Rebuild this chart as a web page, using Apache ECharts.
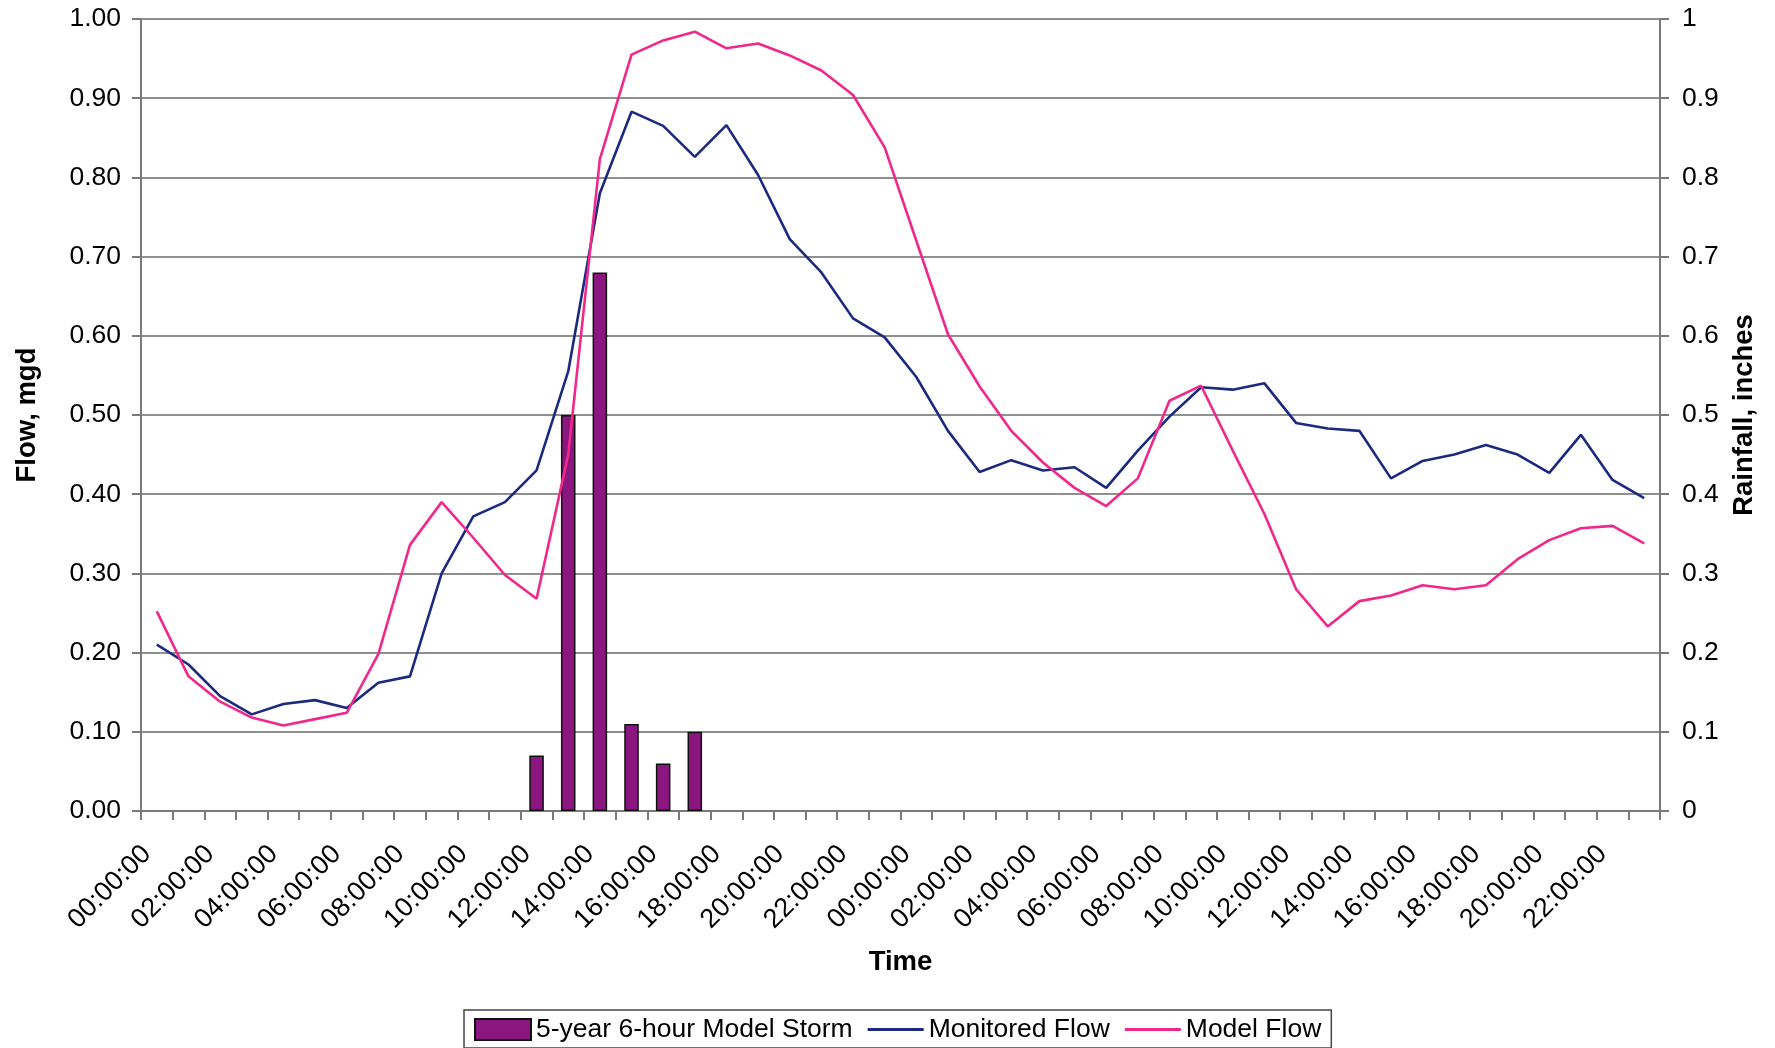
<!DOCTYPE html>
<html>
<head>
<meta charset="utf-8">
<script src="https://cdn.jsdelivr.net/npm/echarts@6/dist/echarts.min.js"></script>
<style>
html,body{margin:0;padding:0;background:#fff;}
#chart{width:1775px;height:1048px;}
</style>
</head>
<body>
<div id="chart"></div>
<script>
// Hourly categories over two days
const hours = ["00","01","02","03","04","05","06","07","08","09","10","11","12","13","14","15","16","17","18","19","20","21","22","23"];
const categories = hours.map(h => h + ":00:00").concat(hours.map(h => h + ":00:00"));

// Rainfall, inches (right axis)
const rainfall = [null,null,null,null,null,null,null,null,null,null,null,null,
  0.07,0.50,0.68,0.11,0.06,0.10,
  null,null,null,null,null,null,
  null,null,null,null,null,null,null,null,null,null,null,null,
  null,null,null,null,null,null,null,null,null,null,null,null];

// Monitored flow, mgd
const monitoredFlow = [0.21,0.185,0.145,0.122,0.135,0.140,0.130,0.162,0.170,0.300,0.372,0.390,
  0.430,0.555,0.780,0.883,0.865,0.826,0.866,0.803,0.722,0.680,0.622,0.598,
  0.548,0.480,0.428,0.443,0.430,0.434,0.408,0.455,0.498,0.535,0.532,0.540,
  0.490,0.483,0.480,0.420,0.442,0.450,0.462,0.450,0.427,0.475,0.418,0.395];

// Model flow, mgd
const modelFlow = [0.252,0.170,0.138,0.118,0.108,0.116,0.124,0.198,0.336,0.390,0.345,0.298,
  0.268,0.450,0.823,0.955,0.973,0.984,0.963,0.969,0.954,0.935,0.904,0.838,
  0.720,0.602,0.536,0.480,0.440,0.408,0.385,0.420,0.518,0.537,0.455,0.375,
  0.280,0.233,0.265,0.272,0.285,0.280,0.285,0.318,0.342,0.357,0.360,0.338];

const leftTicks = v => v.toFixed(2);
const rightTicks = v => String(+v.toFixed(1));

const FONT = "'Liberation Sans', Arial, sans-serif";
const chart = echarts.init(document.getElementById('chart'));
const axisLineStyle = {color:'#7a7a7a', width:2};
const lineIcon = 'path://M0,0 L56,0 L56,3 L0,3 Z';

chart.setOption({
  animation:false,
  textStyle:{fontFamily:FONT},
  grid:{left:141,right:115,top:19,bottom:237},
  legend:{
    bottom:0, left:464,
    borderColor:'#444', borderWidth:1.5, backgroundColor:'#fff',
    padding:[6,10,5,10], itemGap:15, itemWidth:56, itemHeight:21,
    textStyle:{fontFamily:FONT,fontSize:26.5,color:'#000'},
    data:[
      {name:'5-year 6-hour Model Storm', icon:'rect'},
      {name:'Monitored Flow', icon:lineIcon},
      {name:'Model Flow', icon:lineIcon}
    ]
  },
  xAxis:{
    type:'category', data:categories, boundaryGap:true,
    axisLine:{show:true,lineStyle:axisLineStyle},
    axisTick:{show:true,interval:0,length:9,lineStyle:axisLineStyle},
    axisLabel:{interval:1,rotate:45,fontSize:27,margin:29,padding:[0,14,0,0],color:'#000',fontFamily:FONT},
    name:'Time', nameLocation:'middle', nameGap:137,
    nameTextStyle:{fontSize:27.5,fontWeight:'bold',color:'#000',fontFamily:FONT}
  },
  yAxis:[
    {
      type:'value', min:0, max:1, interval:0.1, position:'left',
      axisLine:{show:true,lineStyle:axisLineStyle},
      axisTick:{show:true,length:9,lineStyle:axisLineStyle},
      splitLine:{show:true,lineStyle:{color:'#6a6a6a',width:1.7}},
      axisLabel:{formatter:leftTicks,fontSize:26.5,margin:20,color:'#000',fontFamily:FONT},
      name:'Flow, mgd', nameLocation:'middle', nameGap:100, nameRotate:90,
      nameTextStyle:{fontSize:27.5,fontWeight:'bold',color:'#000',fontFamily:FONT}
    },
    {
      type:'value', min:0, max:1, interval:0.1, position:'right',
      axisLine:{show:true,lineStyle:axisLineStyle},
      axisTick:{show:true,length:9,lineStyle:axisLineStyle},
      splitLine:{show:false},
      axisLabel:{formatter:rightTicks,fontSize:26.5,margin:22,color:'#000',fontFamily:FONT},
      name:'Rainfall, inches', nameLocation:'middle', nameGap:70, nameRotate:90,
      nameTextStyle:{fontSize:27.5,fontWeight:'bold',color:'#000',fontFamily:FONT}
    }
  ],
  series:[
    {
      name:'5-year 6-hour Model Storm', type:'bar', yAxisIndex:1, data:rainfall,
      barWidth:'46%',
      itemStyle:{color:'#8c167f',borderColor:'#111',borderWidth:1.5}
    },
    {
      name:'Monitored Flow', type:'line', yAxisIndex:0, data:monitoredFlow,
      symbol:'none', lineStyle:{color:'#1b2a7f',width:2.6}, itemStyle:{color:'#1b2a7f'}
    },
    {
      name:'Model Flow', type:'line', yAxisIndex:0, data:modelFlow,
      symbol:'none', lineStyle:{color:'#f0288c',width:2.6}, itemStyle:{color:'#f0288c'}
    }
  ]
});
</script>
</body>
</html>
